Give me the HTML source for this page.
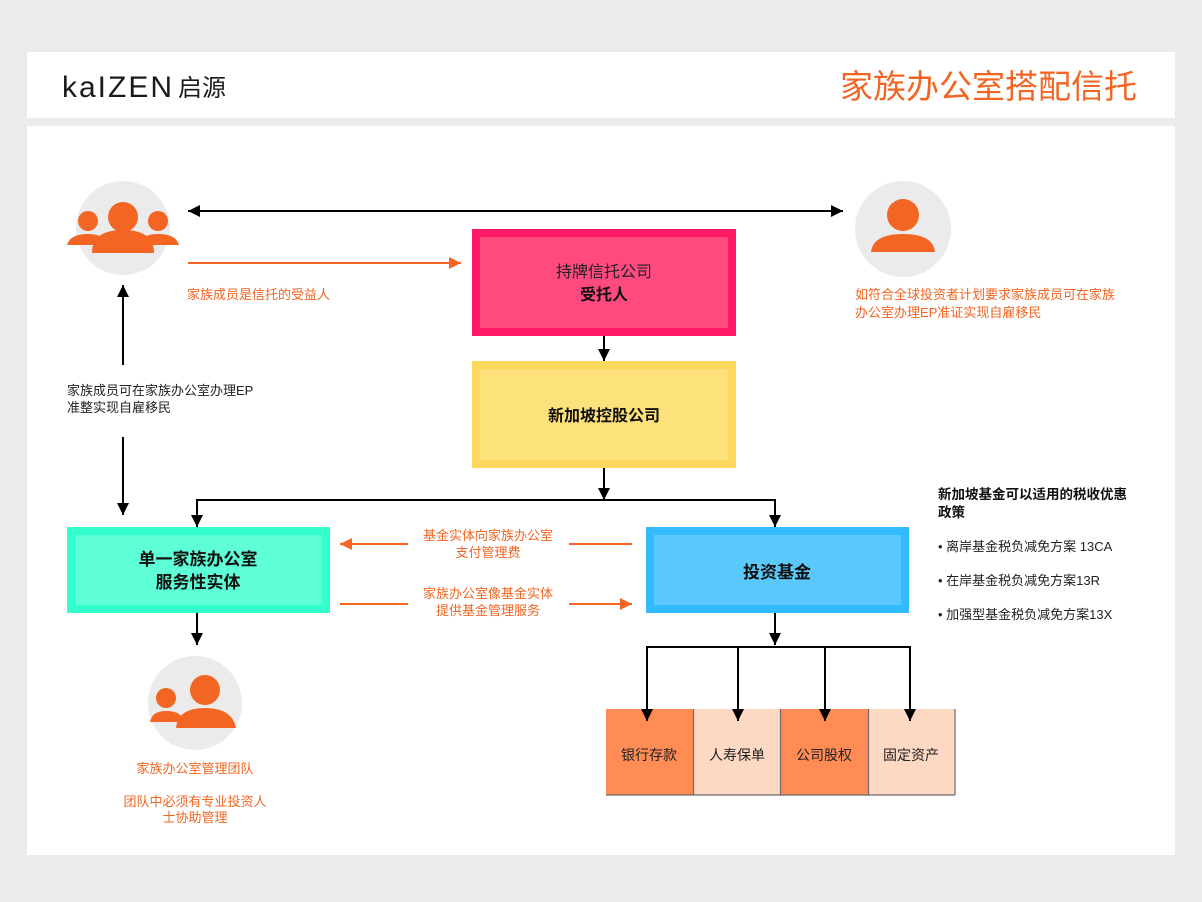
<!DOCTYPE html>
<html><head><meta charset="utf-8"><style>
html,body{margin:0;padding:0;background:#ebebeb;}
svg{display:block;}
text{font-family:"Liberation Sans","Noto Sans CJK SC",sans-serif;}
</style></head><body>
<svg width="1202" height="902" viewBox="0 0 1202 902" xmlns="http://www.w3.org/2000/svg">
<defs>
<marker id="ab2" viewBox="0 0 10 10" markerWidth="14" markerHeight="12" refX="10" refY="5" orient="auto-start-reverse" markerUnits="userSpaceOnUse"><path d="M0,0 L10,5 L0,10 z" fill="#000"/></marker>
<marker id="ao" viewBox="0 0 10 10" markerWidth="14" markerHeight="12" refX="10" refY="5" orient="auto" markerUnits="userSpaceOnUse"><path d="M0,0 L10,5 L0,10 z" fill="#f26522"/></marker>
</defs>
<rect x="0" y="0" width="1202" height="902" fill="#ebebeb"/>
<rect x="27" y="52" width="1148" height="66" fill="#fff"/>
<rect x="27" y="126" width="1148" height="729" fill="#fff"/>
<!-- logo -->
<text x="62" y="97" font-size="30" fill="#1a1a1a" letter-spacing="2">kaIZEN</text>
<text x="178" y="96" font-size="24" fill="#1a1a1a">启源</text>
<text x="1137" y="98" font-size="33" fill="#f26522" text-anchor="end">家族办公室搭配信托</text>

<!-- person circles -->
<circle cx="123" cy="228" r="47" fill="#ebebeb"/>
<circle cx="123" cy="217" r="15" fill="#f26522"/>
<path d="M92,253 Q92,230 123,230 Q154,230 154,253 z" fill="#f26522"/>
<circle cx="88" cy="221" r="10" fill="#f26522"/>
<path d="M67,245 Q70,234 88,234 Q100,234 106,240 L100,245 z" fill="#f26522"/>
<circle cx="158" cy="221" r="10" fill="#f26522"/>
<path d="M179,245 Q176,234 158,234 Q146,234 140,240 L146,245 z" fill="#f26522"/>

<circle cx="903" cy="229" r="48" fill="#ebebeb"/>
<circle cx="903" cy="215" r="16" fill="#f26522"/>
<path d="M871,252 Q873,234 903,234 Q933,234 935,252 z" fill="#f26522"/>

<circle cx="195" cy="703" r="47" fill="#ebebeb"/>
<circle cx="205" cy="690" r="15" fill="#f26522"/>
<path d="M176,728 Q178,708 205,708 Q232,708 236,728 z" fill="#f26522"/>
<circle cx="166" cy="698" r="10" fill="#f26522"/>
<path d="M150,722 Q152,711 166,711 Q178,711 182,717 L178,722 z" fill="#f26522"/>

<!-- asset boxes -->
<rect x="606" y="709" width="87" height="86" fill="#ff8c55"/>
<rect x="694" y="709" width="86" height="86" fill="#fdd8c2"/>
<rect x="781" y="709" width="87" height="86" fill="#ff8c55"/>
<rect x="869" y="709" width="86" height="86" fill="#fdd8c2"/>
<g stroke="#6b6b6b" stroke-width="1.2">
<line x1="606" y1="795" x2="955" y2="795"/>
<line x1="693.5" y1="709" x2="693.5" y2="795"/>
<line x1="780.5" y1="709" x2="780.5" y2="795"/>
<line x1="868.5" y1="709" x2="868.5" y2="795"/>
<line x1="955" y1="709" x2="955" y2="795"/>
</g>
<g font-size="14" fill="#222" text-anchor="middle">
<text x="649" y="760">银行存款</text>
<text x="737" y="760">人寿保单</text>
<text x="824" y="760">公司股权</text>
<text x="911" y="760">固定资产</text>
</g>

<!-- connectors -->
<g stroke="#000" stroke-width="2" fill="none">
<line x1="188" y1="211" x2="843" y2="211" marker-end="url(#ab2)" marker-start="url(#ab2)"/>
<line x1="123" y1="365" x2="123" y2="285" marker-end="url(#ab2)"/>
<line x1="123" y1="437" x2="123" y2="515" marker-end="url(#ab2)"/>
<line x1="604" y1="336" x2="604" y2="361" marker-end="url(#ab2)"/>
<line x1="604" y1="468" x2="604" y2="500" marker-end="url(#ab2)"/>
<polyline points="197,527 197,500 775,500 775,527"/>
<line x1="197" y1="500" x2="197" y2="527" marker-end="url(#ab2)"/>
<line x1="775" y1="500" x2="775" y2="527" marker-end="url(#ab2)"/>
<line x1="197" y1="613" x2="197" y2="645" marker-end="url(#ab2)"/>
<line x1="775" y1="613" x2="775" y2="645" marker-end="url(#ab2)"/>
<polyline points="647,700 647,647 910,647 910,700"/>
<line x1="647" y1="647" x2="647" y2="721" marker-end="url(#ab2)"/>
<line x1="738" y1="647" x2="738" y2="721" marker-end="url(#ab2)"/>
<line x1="825" y1="647" x2="825" y2="721" marker-end="url(#ab2)"/>
<line x1="910" y1="647" x2="910" y2="721" marker-end="url(#ab2)"/>
</g>
<g stroke="#f26522" stroke-width="2" fill="none">
<line x1="188" y1="263" x2="461" y2="263" marker-end="url(#ao)"/>
<line x1="408" y1="544" x2="340" y2="544" marker-end="url(#ao)"/>
<line x1="569" y1="544" x2="632" y2="544"/>
<line x1="340" y1="604" x2="408" y2="604"/>
<line x1="569" y1="604" x2="632" y2="604" marker-end="url(#ao)"/>
</g>

<!-- boxes -->
<rect x="476" y="233" width="256" height="99" fill="#ff4a7f" stroke="#ff1a66" stroke-width="8"/>
<text x="604" y="277" font-size="16" text-anchor="middle" fill="#222">持牌信托公司</text>
<text x="604" y="300" font-size="16" font-weight="bold" text-anchor="middle" fill="#111">受托人</text>

<rect x="476" y="365" width="256" height="99" fill="#fde17a" stroke="#fcd95c" stroke-width="8"/>
<text x="604" y="421" font-size="16" font-weight="bold" text-anchor="middle" fill="#111">新加坡控股公司</text>

<rect x="71" y="531" width="255" height="78" fill="#5effd6" stroke="#33ffcc" stroke-width="8"/>
<text x="198" y="565" font-size="17" font-weight="bold" text-anchor="middle" fill="#111">单一家族办公室</text>
<text x="198" y="588" font-size="17" font-weight="bold" text-anchor="middle" fill="#111">服务性实体</text>

<rect x="650" y="531" width="255" height="78" fill="#5ac8fa" stroke="#33bbff" stroke-width="8"/>
<text x="777" y="578" font-size="17" font-weight="bold" text-anchor="middle" fill="#111">投资基金</text>

<!-- labels -->
<g font-size="13" fill="#f26522">
<text x="187" y="299">家族成员是信托的受益人</text>
<text x="855" y="299">如符合全球投资者计划要求家族成员可在家族</text>
<text x="855" y="317">办公室办理EP准证实现自雇移民</text>
<text x="488" y="540" text-anchor="middle">基金实体向家族办公室</text>
<text x="488" y="557" text-anchor="middle">支付管理费</text>
<text x="488" y="598" text-anchor="middle">家族办公室像基金实体</text>
<text x="488" y="615" text-anchor="middle">提供基金管理服务</text>
<text x="195" y="773" text-anchor="middle">家族办公室管理团队</text>
<text x="195" y="806" text-anchor="middle">团队中必须有专业投资人</text>
<text x="195" y="822" text-anchor="middle">士协助管理</text>
</g>
<g font-size="13" fill="#222">
<text x="67" y="395">家族成员可在家族办公室办理EP</text>
<text x="67" y="412">准整实现自雇移民</text>
<text x="938" y="499" font-weight="bold" font-size="13.5" fill="#111">新加坡基金可以适用的税收优惠</text>
<text x="938" y="517" font-weight="bold" font-size="13.5" fill="#111">政策</text>
<text x="938" y="551">• 离岸基金税负减免方案 13CA</text>
<text x="938" y="585">• 在岸基金税负减免方案13R</text>
<text x="938" y="619">• 加强型基金税负减免方案13X</text>
</g>
</svg>
</body></html>
